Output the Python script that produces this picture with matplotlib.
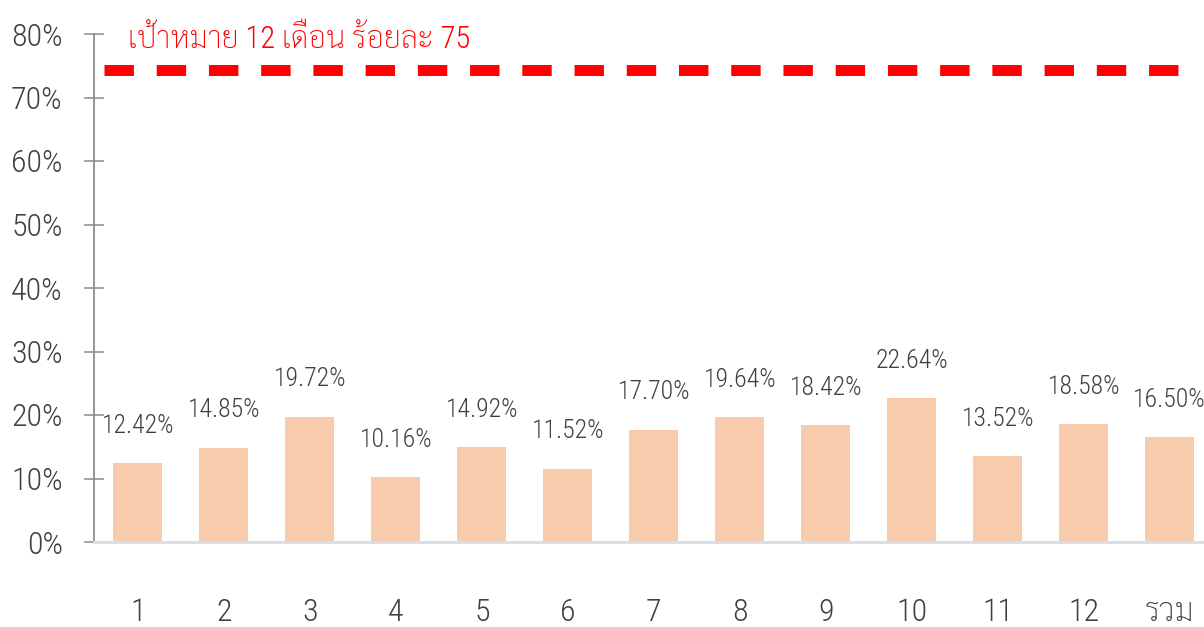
import matplotlib
matplotlib.use("Agg")
import matplotlib.pyplot as plt
from matplotlib import font_manager
from matplotlib.ticker import PercentFormatter

# data
months = ["1", "2", "3", "4", "5", "6", "7", "8", "9", "10", "11", "12", "รวม"]
rates = [12.42, 14.85, 19.72, 10.16, 14.92, 11.52, 17.70, 19.64, 18.42, 22.64, 13.52, 18.58, 16.50]
target_line = 74.4  # where the dashed target line sits in the picture
target_label = "เป้าหมาย 12 เดือน ร้อยละ 75"


def pick(candidates, fallback):
    names = {f.name for f in font_manager.fontManager.ttflist}
    for name in candidates:
        if name in names:
            return name
    return fallback


latin_font = pick(["Roboto Condensed", "Liberation Sans Narrow", "Open Sans Condensed", "Archivo Narrow"], "DejaVu Sans")
thai_font = pick(["Sarabun", "Noto Sans Thai", "IBM Plex Sans Thai", "Athiti", "Krub"], "DejaVu Sans")
plt.rcParams["font.family"] = [latin_font, thai_font, "DejaVu Sans"]

BAR_COLOR = "#F8CBAD"
TEXT_COLOR = "#404040"

fig = plt.figure(figsize=(12.04, 6.27), dpi=100)
ax = fig.add_axes([94 / 1204, 85 / 627, 1 - 94 / 1204, 508 / 627])

x = list(range(len(months)))
ax.bar(x, [r / 100 for r in rates], width=0.57, color=BAR_COLOR, zorder=2)

for xi, r in zip(x, rates):
    ax.annotate(f"{r:.2f}%", (xi, r / 100), xytext=(0, 27), textcoords="offset points",
                ha="center", va="center", fontsize=18.5, color=TEXT_COLOR,
                fontweight="light", annotation_clip=False)

# target line
ax.plot([-0.395, 12.14], [target_line / 100] * 2, color="#FF0000", lw=7.9,
        linestyle=(0, (2.68, 2.08)), dash_capstyle="butt", zorder=3)
ax.text(-0.12, 0.778, target_label, color="#FF0000", fontsize=22, fontweight="light",
        ha="left", va="baseline")

ax.set_xlim(-0.51, 12.4)
ax.set_ylim(0, 0.8)
ax.set_yticks([i / 10 for i in range(9)])
ax.yaxis.set_major_formatter(PercentFormatter(1.0, decimals=0))
ax.set_xticks(x)
ax.set_xticklabels(months)

for side in ["top", "right"]:
    ax.spines[side].set_visible(False)
ax.spines["left"].set_color("#8C8C8C")
ax.spines["left"].set_linewidth(1.3)
ax.spines["bottom"].set_color("#D9DEE8")
ax.spines["bottom"].set_linewidth(2.2)

ax.tick_params(axis="y", direction="inout", length=15, width=1.1, color="#8C8C8C",
               pad=15, labelsize=23, labelcolor=TEXT_COLOR)
ax.tick_params(axis="x", length=0, pad=40, labelsize=23, labelcolor=TEXT_COLOR)
for lab in ax.get_yticklabels() + ax.get_xticklabels():
    lab.set_fontweight("light")

fig.savefig("out.png", dpi=100)
